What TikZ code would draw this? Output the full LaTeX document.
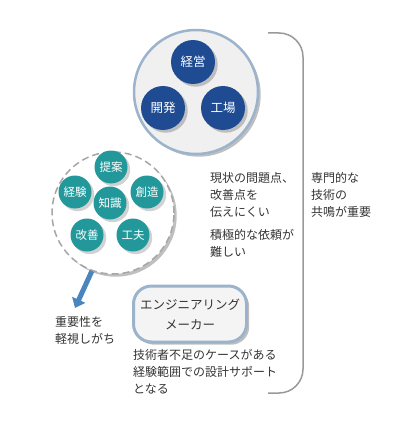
\documentclass[tikz,border=0pt]{standalone}
\usepackage{fontspec}
\setmainfont{Noto Sans CJK JP}
\usetikzlibrary{arrows.meta,shadows}
\definecolor{navy}{HTML}{1F4B93}
\definecolor{teal}{HTML}{22989A}
\definecolor{rim}{HTML}{9CB3CC}
\definecolor{ink}{HTML}{333333}
\definecolor{arrowblue}{HTML}{4A86BE}
\begin{document}
\begin{tikzpicture}[
    x=1pt, y=-1pt,
    blob/.style={
        circle,
        fill=navy,
        text=white,
        font=\fontsize{12.5}{14}\selectfont,
        minimum size=44pt,
        inner sep=0pt,
        drop shadow={opacity=.45}},
    skill/.style={
        circle,
        fill=teal,
        text=white,
        font=\fontsize{11.5}{13}\selectfont,
        minimum size=33pt,
        inner sep=0pt,
        drop shadow={opacity=.35}},
    note/.style={
        anchor=north west,
        align=left,
        inner sep=0pt,
        text=ink,
        font=\fontsize{12}{17}\selectfont}]
    \useasboundingbox (0,0) rectangle (411,441);

    % the three parts of the company
    \node[circle, draw=rim, line width=2.5pt, fill=gray!12,
        minimum size=124pt, drop shadow={opacity=.5}] (company) at (196,92) {};
    \node[blob] (mgmt) at (193,62) {経営};
    \node[blob] (dev) at (163,108) {開発};
    \node[blob] (plant) at (223,108) {工場};

    % what is known inside
    \node[circle, draw=gray!70, dashed, dash pattern=on 7pt off 4pt,
        line width=1.5pt, fill=white, minimum size=122pt,
        drop shadow={opacity=.5}] (know) at (113,213) {};
    \node[skill] (idea) at (111,167) {提案};
    \node[skill] (exp) at (75,192) {経験};
    \node[skill] (create) at (147,192) {創造};
    \node[skill] (wisdom) at (110,203) {知識};
    \node[skill] (improve) at (87,235) {改善};
    \node[skill] (craft) at (133,235) {工夫};

    \coordinate (tip) at (75,308);
    \draw[arrowblue, line width=5pt, -{Triangle[length=9pt,width=14pt]}]
        (know.250) -- (tip);
    \node[note] (neglect) at (55,316) {重要性を\\軽視しがち};

    % the engineering firm
    \node[rectangle, rounded corners=18pt, draw=rim, line width=3pt,
        fill=blue!4!gray!8, minimum width=113pt, minimum height=56pt,
        align=center, text=ink, font=\fontsize{12.5}{20}\selectfont,
        drop shadow={opacity=.5}] (maker) at (190,314) {エンジニアリング\\メーカー};
    \node[note] (support) at (133,349) {技術者不足のケースがある\\経験範囲での設計サポート\\となる};

    \node[note] (issue) at (210,172) {現状の問題点、\\改善点を\\伝えにくい};
    \node[note] (request) at (210,229) {積極的な依頼が\\難しい};

    % bracket on the right
    \coordinate (b1) at (268,33);
    \coordinate (b2) at (268,393);
    \draw[gray!80, line width=1.5pt, rounded corners=24pt]
        (b1) -- (303,33) -- (303,393) -- (b2);
    \node[note] (key) at (311,172) {専門的な\\技術の\\共鳴が重要};
\end{tikzpicture}
\end{document}
